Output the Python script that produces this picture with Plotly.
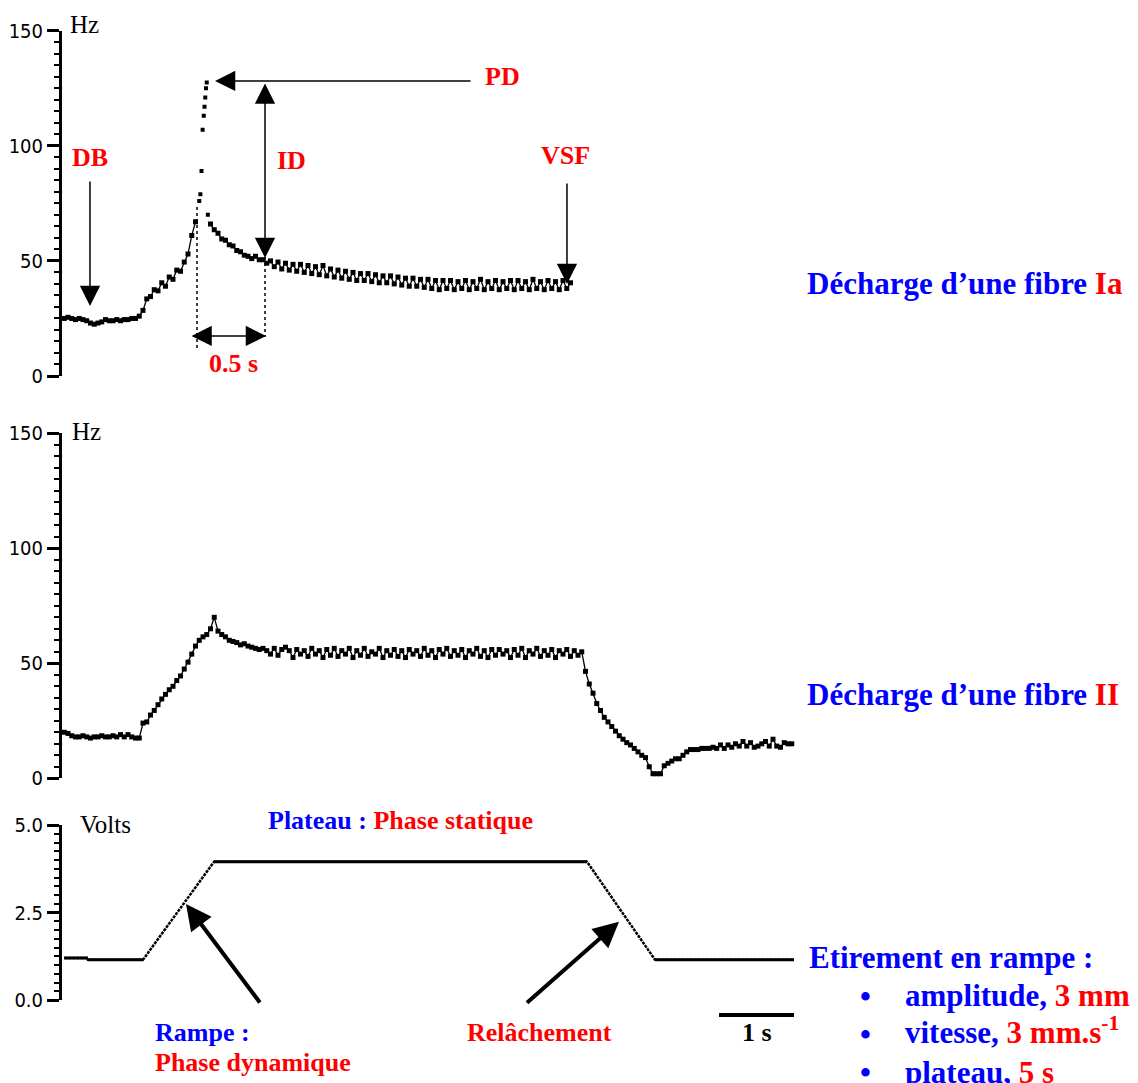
import plotly.graph_objects as go

W, H = 1138, 1083
SERIF = "Liberation Serif, Times New Roman, serif"
TICKFONT = "Liberation Sans Narrow, DejaVu Sans Condensed, Arial Narrow, sans-serif"
BLUE, RED = "#0000ff", "#ff0000"

# ---------------- data ----------------
DT = 0.05          # sampling step (s)
T0 = 0.03          # first sample time (s)

# Ia fibre: rising phase (grid samples 0..35)
ia_rise_hz = [25, 25.5, 25, 24.5, 25, 24.5, 24, 23, 22.5, 23,
              23.5, 24.5, 24, 24, 24.5, 24, 24.5, 24.5, 25, 25,
              26, 28.5, 33.5, 34.5, 37.5, 37, 40.5, 39, 43, 42,
              46, 45.5, 49.5, 53, 61, 67]
# Ia fibre: dynamic peak (irregular samples)
ia_spike_t = [1.83, 1.845, 1.86, 1.875, 1.89, 1.90, 1.91, 1.92, 1.93, 1.945]
ia_spike_hz = [76, 79, 89, 107, 113, 117, 121, 125, 127.5, 70]
# Ia fibre: adaptation / static phase (grid samples from 39)
IA_DECAY_START = 39
ia_decay_hz = [66, 63.5, 62, 59.5, 59, 57, 56.5, 54.5, 54, 52.5,
               52, 51, 52, 50.5, 50.5, 49,
               50, 47.5, 49.5, 46.5, 49, 46, 48.5, 45.5, 48.5, 45,
               48, 44.5, 47.5, 44, 48, 43.5, 46.5, 43, 46, 42.5,
               45.5, 42, 45, 41.5, 44.5, 41.5, 44.5, 41, 44, 40.5,
               43.5, 40.5, 43.5, 40, 43, 39.5, 42.5, 39, 42.5, 39,
               42, 38.5, 42, 38, 41.5, 37.5, 41.5, 38, 41.5, 37.5,
               41, 38, 41.5, 37.5, 41, 38, 42, 37.5, 41, 38,
               41.5, 37.5, 41, 38, 41.5, 37.5, 41.5, 38, 41, 37.5,
               42, 38, 41, 37.5, 41.5, 38, 41, 37.5, 41.5, 38, 40.5]

# II fibre (grid samples 0..194)
ii_hz = [20, 19.5, 18.5, 18, 18, 18.5, 18, 17.5, 18, 18,
         18.5, 18, 18, 18.5, 18, 19, 18, 19, 18, 17.5,
         17.5, 24, 24.5, 27.5, 29.5, 32, 34.5, 36.5, 38.5, 40,
         42.5, 44.5, 47.5, 50.5, 54, 57.5, 60, 61.5, 62.5, 65,
         70, 64, 62.5, 61.5, 60, 59.5, 59, 58, 58.5, 57.5,
         57, 56.5, 56, 56.5, 55.5, 54, 56.5, 53.5, 56, 57,
         55.5, 52.5, 56, 54, 55.5, 53, 56.5, 54, 55.5, 52.5,
         56, 53.5, 56.5, 53, 55.5, 54, 56.5, 52.5, 55.5, 53.5,
         56.5, 53, 55, 54, 56.5, 52.5, 55.5, 53.5, 56, 53,
         55.5, 52.5, 56, 54, 55.5, 53, 56.5, 53.5, 55.5, 52.5,
         56, 54, 56.5, 53, 55.5, 53.5, 56, 52.5, 55.5, 54,
         56.5, 53, 55.5, 52.5, 56, 53.5, 56, 54, 55.5, 52.5,
         56, 53.5, 56.5, 52.5, 55.5, 54, 56.5, 53, 55.5, 53.5,
         56, 52.5, 55.5, 54, 56, 53, 55.5, 53.5, 55, 46.5,
         41, 37, 32.5, 29.5, 26.5, 24.5, 22.5, 20.5, 18.5, 17,
         15.5, 14.5, 13, 11.5, 10, 9, 5, 2, 2, 2,
         5.5, 6.5, 7.5, 8.5, 8.5, 10, 11.5, 12.5, 12.5, 12.5,
         13, 13, 13, 13.5, 13, 14.5, 13, 14.5, 13.5, 15,
         14, 16, 14, 15.5, 13.5, 14, 15, 16, 14, 17,
         14, 13.5, 15.5, 15, 15]

# Ramp stimulus (breakpoints)
volt_t = [0.03, 0.347, 0.347, 1.08, 2.027, 7.0, 7.907, 9.76]
volt_v = [1.2, 1.2, 1.15, 1.15, 3.95, 3.95, 1.15, 1.15]

hz_ticks = [0, 50, 100, 150]
volt_ticks = [0, 2.5, 5.0]
volt_ticklabels = ["0.0", "2.5", "5.0"]
X_RANGE = [0, 9.84]

# ---------------- build series ----------------
ia_rise_t = [T0 + i * DT for i in range(len(ia_rise_hz))]
ia_decay_t = [T0 + (IA_DECAY_START + i) * DT for i in range(len(ia_decay_hz))]
ii_t = [T0 + i * DT for i in range(len(ii_hz))]

fig = go.Figure()
mk = dict(symbol="square", size=5, color="black", line=dict(width=0))
ln = dict(color="black", width=1.3)
fig.add_trace(go.Scatter(x=ia_rise_t, y=ia_rise_hz, mode="lines+markers",
                         marker=mk, line=ln, xaxis="x", yaxis="y",
                         showlegend=False))
fig.add_trace(go.Scatter(x=ia_spike_t, y=ia_spike_hz, mode="markers",
                         marker=dict(mk, size=4), xaxis="x", yaxis="y",
                         showlegend=False))
fig.add_trace(go.Scatter(x=ia_decay_t, y=ia_decay_hz, mode="lines+markers",
                         marker=mk, line=ln, xaxis="x", yaxis="y",
                         showlegend=False))
fig.add_trace(go.Scatter(x=ii_t, y=ii_hz, mode="lines+markers", marker=mk,
                         line=ln, xaxis="x2", yaxis="y2", showlegend=False))
# ramp: full polyline (thin, stepped look), flat parts thicker
fig.add_trace(go.Scatter(x=volt_t, y=volt_v, mode="lines",
                         line=dict(color="black", width=2.5, dash="3px,1px"),
                         xaxis="x3", yaxis="y3", showlegend=False))
flat_x, flat_y = [], []
for i in range(len(volt_t) - 1):
    if volt_v[i] == volt_v[i + 1]:
        flat_x += [volt_t[i], volt_t[i + 1], None]
        flat_y += [volt_v[i], volt_v[i + 1], None]
fig.add_trace(go.Scatter(x=flat_x, y=flat_y, mode="lines",
                         line=dict(color="black", width=3),
                         xaxis="x3", yaxis="y3", showlegend=False))

# ---------------- layout ----------------
XPX0, XPX1 = 62, 800
xdom = [XPX0 / W, XPX1 / W]


def ydom(top_px, bot_px):
    return [1 - bot_px / H, 1 - top_px / H]


def yax(dom, rng, tickvals, ticktext, minor, anchor):
    return dict(domain=dom, range=rng, anchor=anchor, tickvals=tickvals,
                ticktext=ticktext, ticks="outside", ticklen=12, tickwidth=3,
                tickcolor="black", showline=True, linewidth=3,
                linecolor="black", showgrid=False, zeroline=False,
                automargin=False,
                tickfont=dict(family=TICKFONT, size=20, color="black"),
                minor=dict(ticks="outside", dtick=minor, ticklen=5,
                           tickwidth=2, tickcolor="black", showgrid=False))


xcommon = dict(domain=xdom, range=X_RANGE, visible=False, showgrid=False,
               zeroline=False)

layout = dict(
    width=W, height=H, margin=dict(l=0, r=0, t=0, b=0),
    paper_bgcolor="white", plot_bgcolor="white", showlegend=False,
    xaxis=dict(xcommon, anchor="y"),
    xaxis2=dict(xcommon, anchor="y2"),
    xaxis3=dict(xcommon, anchor="y3"),
    yaxis=yax(ydom(30.7, 376), [0, 150], hz_ticks,
              [str(v) for v in hz_ticks], 5, "x"),
    yaxis2=yax(ydom(433.3, 778.3), [0, 150], hz_ticks,
               [str(v) for v in hz_ticks], 5, "x2"),
    yaxis3=yax(ydom(825, 1000), [0, 5], volt_ticks, volt_ticklabels,
               0.25, "x3"),
)
fig.update_layout(**layout)


def txt(px, py, text, size, xanchor="center", color="black"):
    return dict(x=px / W, y=1 - py / H, xref="paper", yref="paper",
                text=text, showarrow=False, xanchor=xanchor,
                yanchor="middle",
                font=dict(family=SERIF, size=size, color=color))


def arrow(xr, yr, tip, tail, width, size, both=False):
    d = dict(xref=xr, yref=yr, axref=xr, ayref=yr, x=tip[0], y=tip[1],
             ax=tail[0], ay=tail[1], text="", showarrow=True,
             arrowhead=2, arrowsize=size, arrowwidth=width,
             arrowcolor="black", standoff=0)
    if both:
        d.update(arrowside="end+start", startarrowhead=2,
                 startarrowsize=size, startstandoff=0)
    return d


def span(t, c):
    return "<span style='color:%s'>%s</span>" % (c, t)


anns = [
    txt(68, 24, "Hz", 25, "left"),
    txt(70, 431, "Hz", 25, "left"),
    txt(78, 824, "Volts", 25, "left"),
    txt(90, 158, "<b>DB</b>", 26, color=RED),
    txt(291, 160, "<b>ID</b>", 26, color=RED),
    txt(502, 76, "<b>PD</b>", 26, color=RED),
    txt(565, 156, "<b>VSF</b>", 26, color=RED),
    txt(233, 363, "<b>0.5 s</b>", 26, color=RED),
    txt(805, 284, "<b>" + span("Décharge d’une fibre ", BLUE) +
        span("Ia", RED) + "</b>", 31, "left"),
    txt(805, 694, "<b>" + span("Décharge d’une fibre ", BLUE) +
        span("II", RED) + "</b>", 31, "left"),
    txt(400, 820, "<b>" + span("Plateau : ", BLUE) +
        span("Phase statique", RED) + "</b>", 26),
    txt(153, 1032, "<b>Rampe :</b>", 26, "left", BLUE),
    txt(153, 1062, "<b>Phase dynamique</b>", 26, "left", RED),
    txt(539, 1032, "<b>Relâchement</b>", 26, color=RED),
    txt(757, 1032, "<b>1 s</b>", 26),
    txt(807, 957, "<b>Etirement en rampe :</b>", 31, "left", BLUE),
    txt(866, 996, "<b>•</b>", 31, color=BLUE),
    txt(866, 1034, "<b>•</b>", 31, color=BLUE),
    txt(866, 1072, "<b>•</b>", 31, color=BLUE),
    txt(903, 995, "<b>" + span("amplitude, ", BLUE) + span("3 mm", RED) +
        "</b>", 31, "left"),
    txt(903, 1030, "<b>" + span("vitesse, ", BLUE) +
        span("3 mm.s<sup>-1</sup>", RED) + "</b>", 31, "left"),
    txt(903, 1072, "<b>" + span("plateau, ", BLUE) + span("5 s", RED) +
        "</b>", 31, "left"),
    # arrows, panel 1
    arrow("x", "y", (0.373, 30.4), (0.373, 85.1), 1.5, 2.7),
    arrow("x", "y", (2.707, 51.3), (2.707, 127.7), 1.5, 2.7, both=True),
    arrow("x", "y", (2.04, 128.2), (5.467, 128.2), 1.5, 2.7),
    arrow("x", "y", (6.733, 40.0), (6.733, 84.3), 1.5, 2.7),
    arrow("x", "y", (2.72, 17.4), (1.707, 17.4), 1.5, 2.7, both=True),
    # arrows, panel 3
    arrow("x3", "y3", (1.653, 2.743), (2.653, -0.114), 4, 1.28),
    arrow("x3", "y3", (7.427, 2.237), (6.18, -0.114), 4, 1.28),
]
fig.update_layout(annotations=anns)


def tpx(t):
    return (XPX0 + (t - X_RANGE[0]) / (X_RANGE[1] - X_RANGE[0]) *
            (XPX1 - XPX0)) / W


shapes = [
    dict(type="line", xref="x", yref="y", x0=1.8, x1=1.8, y0=73.4, y1=10.9,
         line=dict(color="black", width=1.5, dash="dot")),
    dict(type="line", xref="x", yref="y", x0=2.707, x1=2.707, y0=51.7,
         y1=16.9, line=dict(color="black", width=1.5, dash="dot")),
    # 1 s scale bar
    dict(type="line", xref="paper", yref="paper", x0=tpx(8.76),
         x1=tpx(9.76), y0=1 - 1015 / H, y1=1 - 1015 / H,
         line=dict(color="black", width=4)),
]
fig.update_layout(shapes=shapes)

fig.write_html("out.html", config={"displayModeBar": False},
               post_script="document.body.style.margin='0';"
                           "document.body.style.overflow='hidden';")
